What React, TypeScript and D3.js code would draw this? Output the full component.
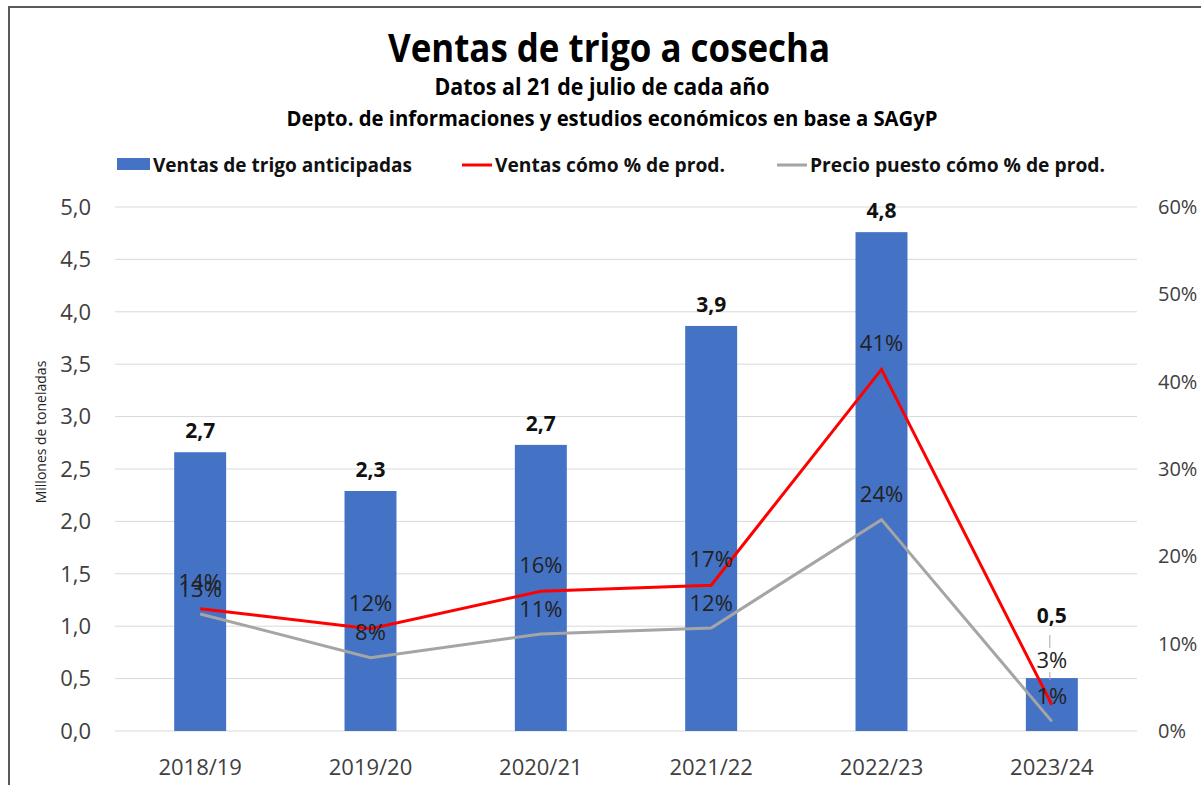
import React from "react";
import * as d3 from "d3";

const categories = ["2018/19", "2019/20", "2020/21", "2021/22", "2022/23", "2023/24"];
const ventas = [2.66, 2.29, 2.73, 3.865, 4.76, 0.505];
const ventasPct = [0.14, 0.117, 0.16, 0.167, 0.414, 0.03];
const precioPct = [0.134, 0.084, 0.111, 0.118, 0.242, 0.011];
const leftTicks = [0, 0.5, 1, 1.5, 2, 2.5, 3, 3.5, 4, 4.5, 5];
const rightTicks = [0, 0.1, 0.2, 0.3, 0.4, 0.5, 0.6];

const TITLE = "Ventas de trigo a cosecha";
const SUB1 = "Datos al 21 de julio de cada año";
const SUB2 = "Depto. de informaciones y estudios económicos en base a SAGyP";
const LEG = ["Ventas de trigo anticipadas", "Ventas cómo % de prod.", "Precio puesto cómo % de prod."];

const W = 1201, H = 785;
const L = 115, R = 1137, T = 207, B = 731;
const FONT = "'Open Sans', 'Noto Sans', sans-serif";
const BAR = "#4472C4", RED = "#FF0000", GREY = "#A5A5A5";

export default function App() {
  const x = d3.scaleBand<string>().domain(categories).range([L, R]).paddingInner(0.695).paddingOuter(0.3475);
  const cx = (c: string) => (x(c) as number) + x.bandwidth() / 2;
  const y = d3.scaleLinear().domain([0, 5]).range([B, T]);
  const y2 = d3.scaleLinear().domain([0, 0.6]).range([B, T]);
  const line = d3.line<number>().x((_, i) => cx(categories[i])).y((d) => y2(d));
  const fmt1 = (v: number) => v.toFixed(1).replace(".", ",");
  const pct = (v: number) => Math.round(v * 100) + "%";
  const last = categories.length - 1;
  const lx = cx(categories[last]) - 2;

  return (
    <svg width={W} height={H} style={{ position: "absolute", left: 0, top: 0, background: "#fff" }} fontFamily={FONT}>
      <rect x={0} y={0} width={W} height={H} fill="#fff" />
      <rect x={9} y={7} width={W + 20} height={H + 20} fill="none" stroke="#595959" strokeWidth={2} />
      {/* titles */}
      <text x={609} y={62} textAnchor="middle" fontSize={40} fontWeight={700} fill="#000" textLength={442} lengthAdjust="spacingAndGlyphs">{TITLE}</text>
      <text x={602} y={95} textAnchor="middle" fontSize={23} fontWeight={700} fill="#000" textLength={335} lengthAdjust="spacingAndGlyphs">{SUB1}</text>
      <text x={612} y={126} textAnchor="middle" fontSize={21} fontWeight={700} fill="#000" textLength={651} lengthAdjust="spacingAndGlyphs">{SUB2}</text>
      {/* legend */}
      <rect x={117} y={158} width={33} height={12} fill={BAR} />
      <text x={153} y={172} fontSize={20} fontWeight={700} fill="#111" textLength={259} lengthAdjust="spacingAndGlyphs">{LEG[0]}</text>
      <line x1={462} x2={492} y1={165} y2={165} stroke={RED} strokeWidth={3} />
      <text x={495} y={172} fontSize={20} fontWeight={700} fill="#111" textLength={230} lengthAdjust="spacingAndGlyphs">{LEG[1]}</text>
      <line x1={777} x2={807} y1={165} y2={165} stroke={GREY} strokeWidth={3} />
      <text x={810} y={172} fontSize={20} fontWeight={700} fill="#111" textLength={295} lengthAdjust="spacingAndGlyphs">{LEG[2]}</text>
      {/* grid */}
      {leftTicks.map((t) => (
        <line key={"g" + t} x1={L} x2={R} y1={y(t)} y2={y(t)} stroke="#D9D9D9" strokeWidth={1} />
      ))}
      {/* left ticks */}
      {leftTicks.map((t) => (
        <text key={"l" + t} x={91} y={y(t)} dy="0.35em" textAnchor="end" fontSize={22} fill="#404040">{fmt1(t)}</text>
      ))}
      {rightTicks.map((t) => (
        <text key={"r" + t} x={1158} y={y2(t)} dy="0.35em" textAnchor="start" fontSize={20} fill="#404040">{pct(t)}</text>
      ))}
      <text transform={`translate(46,432) rotate(-90)`} textAnchor="middle" fontSize={14} fill="#222">Millones de toneladas</text>
      {/* x labels */}
      {categories.map((c) => (
        <text key={"x" + c} x={cx(c)} y={767} dy="0.35em" textAnchor="middle" fontSize={22} fill="#404040">{c}</text>
      ))}
      {/* bars */}
      {categories.map((c, i) => (
        <rect key={"b" + c} x={x(c)} y={y(ventas[i])} width={x.bandwidth()} height={B - y(ventas[i])} fill={BAR} />
      ))}
      {categories.map((c, i) => (
        <text key={"bl" + c} x={cx(c)} y={y(ventas[i]) - (i === last ? 55 : 14)} textAnchor="middle" fontSize={21} fontWeight={700} fill="#111">{fmt1(ventas[i])}</text>
      ))}
      {/* lines */}
      <path d={line(precioPct) as string} fill="none" stroke={GREY} strokeWidth={3} />
      <path d={line(ventasPct) as string} fill="none" stroke={RED} strokeWidth={3} />
      {/* leader line for moved labels */}
      <line x1={lx} x2={lx} y1={635} y2={648} stroke="#A6A6A6" strokeWidth={1} />
      <line x1={lx} x2={lx} y1={672} y2={680} stroke="#A6A6A6" strokeWidth={1} />
      {/* percentage labels */}
      {categories.map((c, i) => (
        <text key={"pl" + c} x={cx(c)} y={i === last ? y2(ventasPct[i]) - 45 : y2(ventasPct[i]) - 26} dy="0.35em" textAnchor="middle" fontSize={22} fill="#222">{pct(ventasPct[i])}</text>
      ))}
      {categories.map((c, i) => (
        <text key={"gl" + c} x={cx(c)} y={y2(precioPct[i]) - 25} dy="0.35em" textAnchor="middle" fontSize={22} fill="#222">{pct(precioPct[i])}</text>
      ))}
    </svg>
  );
}
